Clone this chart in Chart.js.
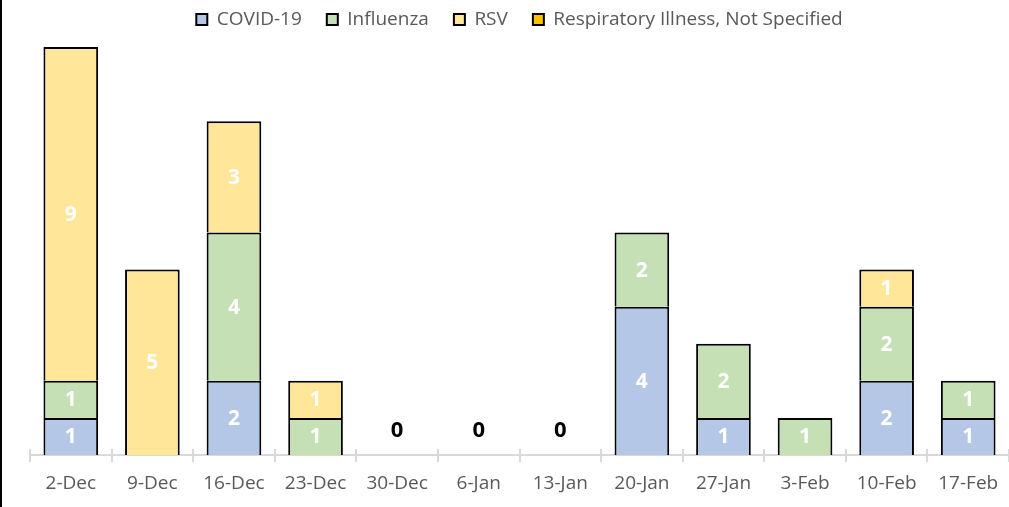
<!DOCTYPE html>
<html>
<head>
<meta charset="utf-8">
<script src="https://cdn.jsdelivr.net/npm/chart.js@4.4.1/dist/chart.umd.min.js"></script>
<style>
  html, body { margin: 0; padding: 0; background: #fff; }
  #wrap { position: relative; width: 1009px; height: 507px; }
  #edge { position: absolute; left: 0; top: 0; width: 2px; height: 507px; background: #000; }
</style>
</head>
<body>
<div id="wrap">
  <canvas id="c" width="1009" height="507"></canvas>
  <div id="edge"></div>
</div>
<script>
const categories = ['2-Dec','9-Dec','16-Dec','23-Dec','30-Dec','6-Jan','13-Jan','20-Jan','27-Jan','3-Feb','10-Feb','17-Feb'];
const covid     = [1,0,2,0,0,0,0,4,1,0,2,1];
const influenza = [1,0,4,1,0,0,0,2,2,1,2,1];
const rsv       = [9,5,3,1,0,0,0,0,0,0,1,0];
const notSpec   = [0,0,0,0,0,0,0,0,0,0,0,0];
const seriesNames = ['COVID-19','Influenza','RSV','Respiratory Illness, Not Specified'];
const seriesColors = ['#B4C7E7','#C5E0B4','#FFE699','#FFC000'];

const FONT = "'Open Sans', 'Noto Sans', sans-serif";

const segLabels = {
  id: 'segLabels',
  afterDatasetsDraw(chart) {
    const ctx = chart.ctx;
    ctx.save();
    ctx.textAlign = 'center';
    ctx.textBaseline = 'middle';
    ctx.fillStyle = '#ffffff';
    ctx.font = "bold 21px " + FONT;
    chart.data.datasets.forEach((ds, di) => {
      const meta = chart.getDatasetMeta(di);
      meta.data.forEach((el, i) => {
        const v = ds.data[i];
        if (v > 0) ctx.fillText(String(v), el.x, (el.y + el.base) / 2 + 1);
      });
    });
    const xs = chart.scales.x, ys = chart.scales.y;
    ctx.fillStyle = '#000000';
    ctx.font = "bold 22px " + FONT;
    categories.forEach((c, i) => {
      const tot = chart.data.datasets.reduce((s, ds) => s + ds.data[i], 0);
      if (tot === 0) ctx.fillText('0', xs.getPixelForValue(i), ys.getPixelForValue(0) - 24);
    });
    ctx.restore();
  }
};

const tickUp = {
  id: 'tickUp',
  afterDraw(chart) {
    const ctx = chart.ctx, xs = chart.scales.x, area = chart.chartArea;
    ctx.save();
    ctx.strokeStyle = '#d9d9d9';
    ctx.lineWidth = 2;
    for (let i = 0; i <= categories.length; i++) {
      const x = Math.round(xs.getPixelForValue(i - 0.5));
      ctx.beginPath();
      ctx.moveTo(x, area.bottom);
      ctx.lineTo(x, area.bottom - 6);
      ctx.stroke();
    }
    ctx.restore();
  }
};

const legendGap = {
  id: 'legendGap',
  beforeInit(chart) {
    const lg = chart.legend;
    if (!lg) return;
    const orig = lg.fit;
    lg.fit = function () { orig.call(this); this.height += 8; };
  }
};

new Chart(document.getElementById('c'), {
  type: 'bar',
  data: {
    labels: categories,
    datasets: [covid, influenza, rsv, notSpec].map((d, k) => ({
      label: seriesNames[k],
      data: d,
      backgroundColor: seriesColors[k],
      borderColor: '#000000',
      borderWidth: 2,
      borderSkipped: 'bottom',
      barPercentage: 0.67,
      categoryPercentage: 1.0
    }))
  },
  options: {
    responsive: false,
    animation: false,
    layout: { padding: { left: 30, right: 0, top: -15, bottom: 0 } },
    plugins: {
      legend: {
        position: 'top',
        labels: {
          font: { family: FONT, size: 19 },
          color: '#595959',
          boxWidth: 11,
          boxHeight: 11,
          padding: 25
        }
      },
      tooltip: { enabled: false }
    },
    scales: {
      x: {
        stacked: true,
        offset: true,
        grid: { display: true, drawOnChartArea: false, drawTicks: true, tickLength: 7, color: '#d9d9d9', lineWidth: 2, offset: true },
        border: { display: true, color: '#d9d9d9', width: 2 },
        ticks: { font: { family: FONT, size: 19 }, color: '#595959', padding: 10, maxRotation: 0 },
        afterFit(scale) { scale.height = 52; }
      },
      y: {
        stacked: true,
        display: false,
        min: 0,
        max: 11
      }
    }
  },
  plugins: [segLabels, tickUp, legendGap]
});
</script>
</body>
</html>
